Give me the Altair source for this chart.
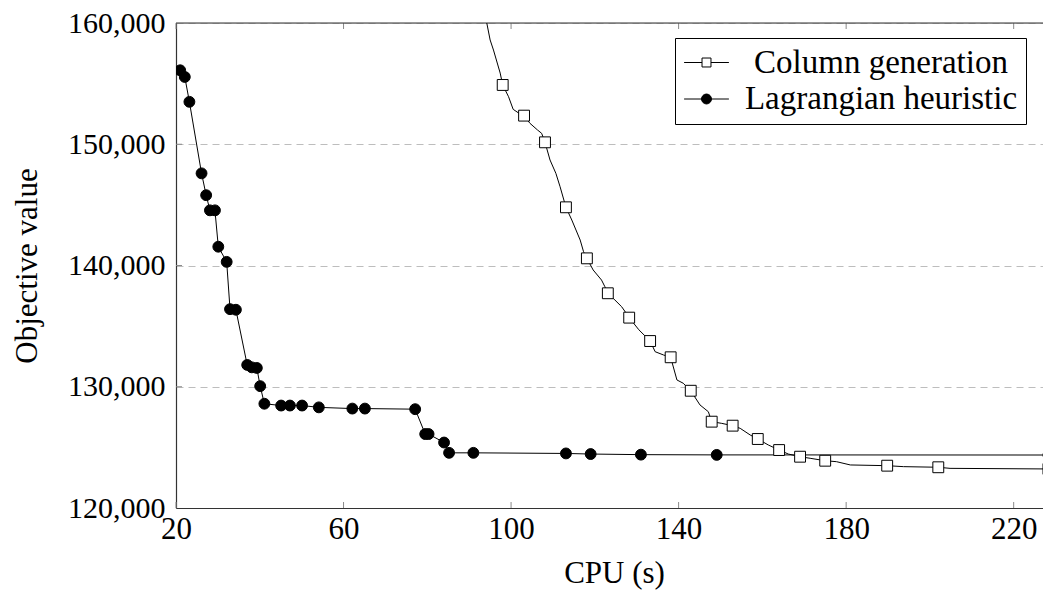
import altair as alt
import pandas as pd

series_names = ["Column generation", "Lagrangian heuristic"]

# Column generation: full line (including unmarked intermediate vertices)
cg_line_cpu = [93.8, 94.2, 95.0, 95.8, 97.4, 98.0, 99.4, 100.5, 101.7, 103.1, 104.5, 106.3, 107.3,
               108.1, 109.3, 110.7, 111.7, 113.1, 114.5, 116.5, 117.3, 118.1, 119.6, 121.6, 122.4,
               123.1, 124.8, 126.4, 127.5, 128.2, 130.5, 133.2, 134.4, 136.4, 138.1, 139.6, 141.1,
               142.9, 145.1, 147.1, 147.9, 150.3, 152.9, 154.7, 157.1, 158.9, 161.4, 164.0, 166.2,
               169.0, 171.4, 175.0, 177.7, 181.0, 189.8, 193.7, 202.0, 204.8, 228.3]
cg_line_obj = [160800, 160000, 158600, 157770, 155870, 154890, 153920, 152880, 152600, 152360, 151730,
               151180, 150900, 150160, 148700, 147600, 146500, 144800, 143750, 142100, 141140, 140590,
               139630, 138800, 138250, 137710, 137150, 136600, 136060, 135700, 134700, 133770, 132890,
               132620, 132430, 130560, 130290, 129670, 128500, 127940, 127120, 126980, 126790, 126570,
               126020, 125690, 125200, 124780, 124450, 124230, 124100, 123900, 123820, 123550, 123490,
               123410, 123360, 123270, 123220]

# Column generation: vertices carrying a marker
cg_mark_cpu = [98.0, 103.1, 108.1, 113.1, 118.1, 123.1, 128.2, 133.2, 138.1, 142.9, 147.9, 152.9,
               158.9, 164.0, 169.0, 175.0, 189.8, 202.0, 228.3]
cg_mark_obj = [154890, 152360, 150160, 144800, 140590, 137710, 135700, 133770, 132430, 129670, 127120,
               126790, 125690, 124780, 124230, 123900, 123490, 123360, 123220]

# Lagrangian heuristic
lh_cpu = [21.0, 22.1, 23.2, 26.1, 27.2, 28.1, 29.3, 30.1, 32.1, 32.9, 34.3, 37.0, 38.1, 39.3, 40.1,
          41.1, 45.1, 47.2, 50.1, 54.1, 62.1, 65.1, 77.1, 79.5, 80.3, 84.0, 85.2, 91.0, 113.1, 119.0,
          131.0, 149.1, 228.3]
lh_obj = [156100, 155550, 153500, 147600, 145800, 144550, 144550, 141550, 140300, 136400, 136350,
          131800, 131600, 131550, 130050, 128600, 128450, 128450, 128450, 128300, 128200, 128200,
          128150, 126100, 126100, 125400, 124550, 124550, 124500, 124450, 124400, 124380, 124370]

x_ticks = [20, 60, 100, 140, 180, 220]
y_ticks = [120000, 130000, 140000, 150000, 160000]
x_domain = [20, 227.0]
y_domain = [120000, 160000]

W, H = 867, 485
FONT = "Liberation Serif"
FS = 31
FRAME = "#333333"

cg_line = pd.DataFrame({"cpu": cg_line_cpu, "obj": cg_line_obj})
lh_line = pd.DataFrame({"cpu": lh_cpu, "obj": lh_obj})
marks = pd.DataFrame({
    "cpu": cg_mark_cpu + lh_cpu,
    "obj": cg_mark_obj + lh_obj,
    "series": [series_names[0]] * len(cg_mark_cpu) + [series_names[1]] * len(lh_cpu),
})
xt = pd.DataFrame({"cpu": x_ticks})
yt = pd.DataFrame({"obj": y_ticks[1:-1]})
top_edge = pd.DataFrame({"obj": [y_domain[1]]})

x_enc = alt.X(
    "cpu:Q",
    scale=alt.Scale(domain=x_domain, nice=False, zero=False),
    axis=alt.Axis(values=x_ticks, title="CPU (s)", grid=False, domain=True, domainColor=FRAME,
                  domainWidth=1.2, ticks=False, tickSize=0,
                  labelPadding=6, labelFont=FONT, labelFontSize=FS, labelColor="black",
                  labelFlush=False, labelOverlap=False,
                  titleFont=FONT, titleFontSize=FS, titleFontWeight="normal", titleColor="black",
                  titleX=438, titleY=65, titleBaseline="middle", titleAlign="center"),
)
y_enc = alt.Y(
    "obj:Q",
    scale=alt.Scale(domain=y_domain, nice=False, zero=False),
    axis=alt.Axis(values=y_ticks, format=",d", title="Objective value", grid=True, gridDash=[7, 5],
                  gridColor="#bdbdbd", gridWidth=1, domain=True, domainColor=FRAME, domainWidth=1.2,
                  ticks=False, tickSize=0,
                  labelPadding=11, labelFont=FONT, labelFontSize=30, labelColor="black",
                  labelFlush=False, labelOverlap=False,
                  titleFont=FONT, titleFontSize=FS, titleFontWeight="normal", titleColor="black",
                  titleAngle=270, titleX=-149, titleY=H / 2, titleBaseline="middle", titleAlign="center"),
)

tick_color = "#8a8a8a"
bottom_ticks = alt.Chart(xt).mark_rule(color=tick_color, strokeWidth=1).encode(
    x=x_enc, y=alt.value(H), y2=alt.value(H - 6))
top_ticks = alt.Chart(xt).mark_rule(color=tick_color, strokeWidth=1).encode(
    x=x_enc, y=alt.value(0), y2=alt.value(6))
left_ticks = alt.Chart(yt).mark_rule(color=tick_color, strokeWidth=1).encode(
    y=y_enc, x=alt.value(0), x2=alt.value(6))
top_line = alt.Chart(top_edge).mark_rule(color=FRAME, strokeWidth=1.2).encode(
    y=y_enc, x=alt.value(0), x2=alt.value(W))

cg_line_layer = alt.Chart(cg_line).mark_line(color="black", strokeWidth=1, clip=True).encode(
    x=x_enc, y=y_enc, order="cpu:Q")
lh_line_layer = alt.Chart(lh_line).mark_line(color="black", strokeWidth=1, clip=True).encode(
    x=x_enc, y=y_enc, order="cpu:Q")

points = alt.Chart(marks).mark_point(filled=True, stroke="black", strokeWidth=1, size=118,
                                      opacity=1, clip=True).encode(
    x=x_enc, y=y_enc,
    shape=alt.Shape("series:N", scale=alt.Scale(domain=series_names, range=["square", "circle"]),
                    legend=None),
    fill=alt.Fill("series:N", scale=alt.Scale(domain=series_names, range=["white", "black"]),
                  legend=None),
)

# legend symbols: line with marker (custom SVG paths, unit = sqrt(size)/2 px)
path_sq = "M-3.2,0H-0.64M0.64,0H3.2M-0.64,-0.64H0.64V0.64H-0.64Z"
path_ci = "M-3.2,0H3.2M0.71,0A0.71,0.71,0,1,1,-0.71,0A0.71,0.71,0,1,1,0.71,0Z"

leg = alt.Legend(title=None, orient="none", legendX=499, legendY=15, padding=8,
                 strokeColor="black", fillColor="white", cornerRadius=0,
                 labelFont=FONT, labelFontSize=33, labelColor="black", labelAlign="center",
                 labelOffset=158, labelBaseline="middle", labelLimit=500,
                 symbolOffset=7, symbolSize=196, symbolStrokeColor="black", symbolStrokeWidth=1,
                 symbolOpacity=1, rowPadding=2.5)

legend_layer = alt.Chart(marks).mark_point(filled=False, strokeWidth=1,
                                            opacity=0, size=196).encode(
    x=x_enc, y=y_enc,
    shape=alt.Shape("series:N", scale=alt.Scale(domain=series_names, range=[path_sq, path_ci]),
                    legend=leg),
    fill=alt.Fill("series:N", scale=alt.Scale(domain=series_names, range=["white", "black"]),
                  legend=leg),
    stroke=alt.Stroke("series:N", scale=alt.Scale(domain=series_names, range=["black", "black"]),
                      legend=leg),
)

chart = alt.layer(
    bottom_ticks, top_ticks, left_ticks, top_line, cg_line_layer, lh_line_layer, points, legend_layer
).resolve_scale(shape="independent", fill="independent", stroke="independent").properties(
    width=W, height=H,
    padding={"left": 168, "top": 15, "right": 0, "bottom": 83},
    autosize=alt.AutoSizeParams(type="none"),
    background="white",
).configure_view(strokeWidth=0).configure(font=FONT)

chart.save("out.html", embed_options={"renderer": "svg", "actions": False})
